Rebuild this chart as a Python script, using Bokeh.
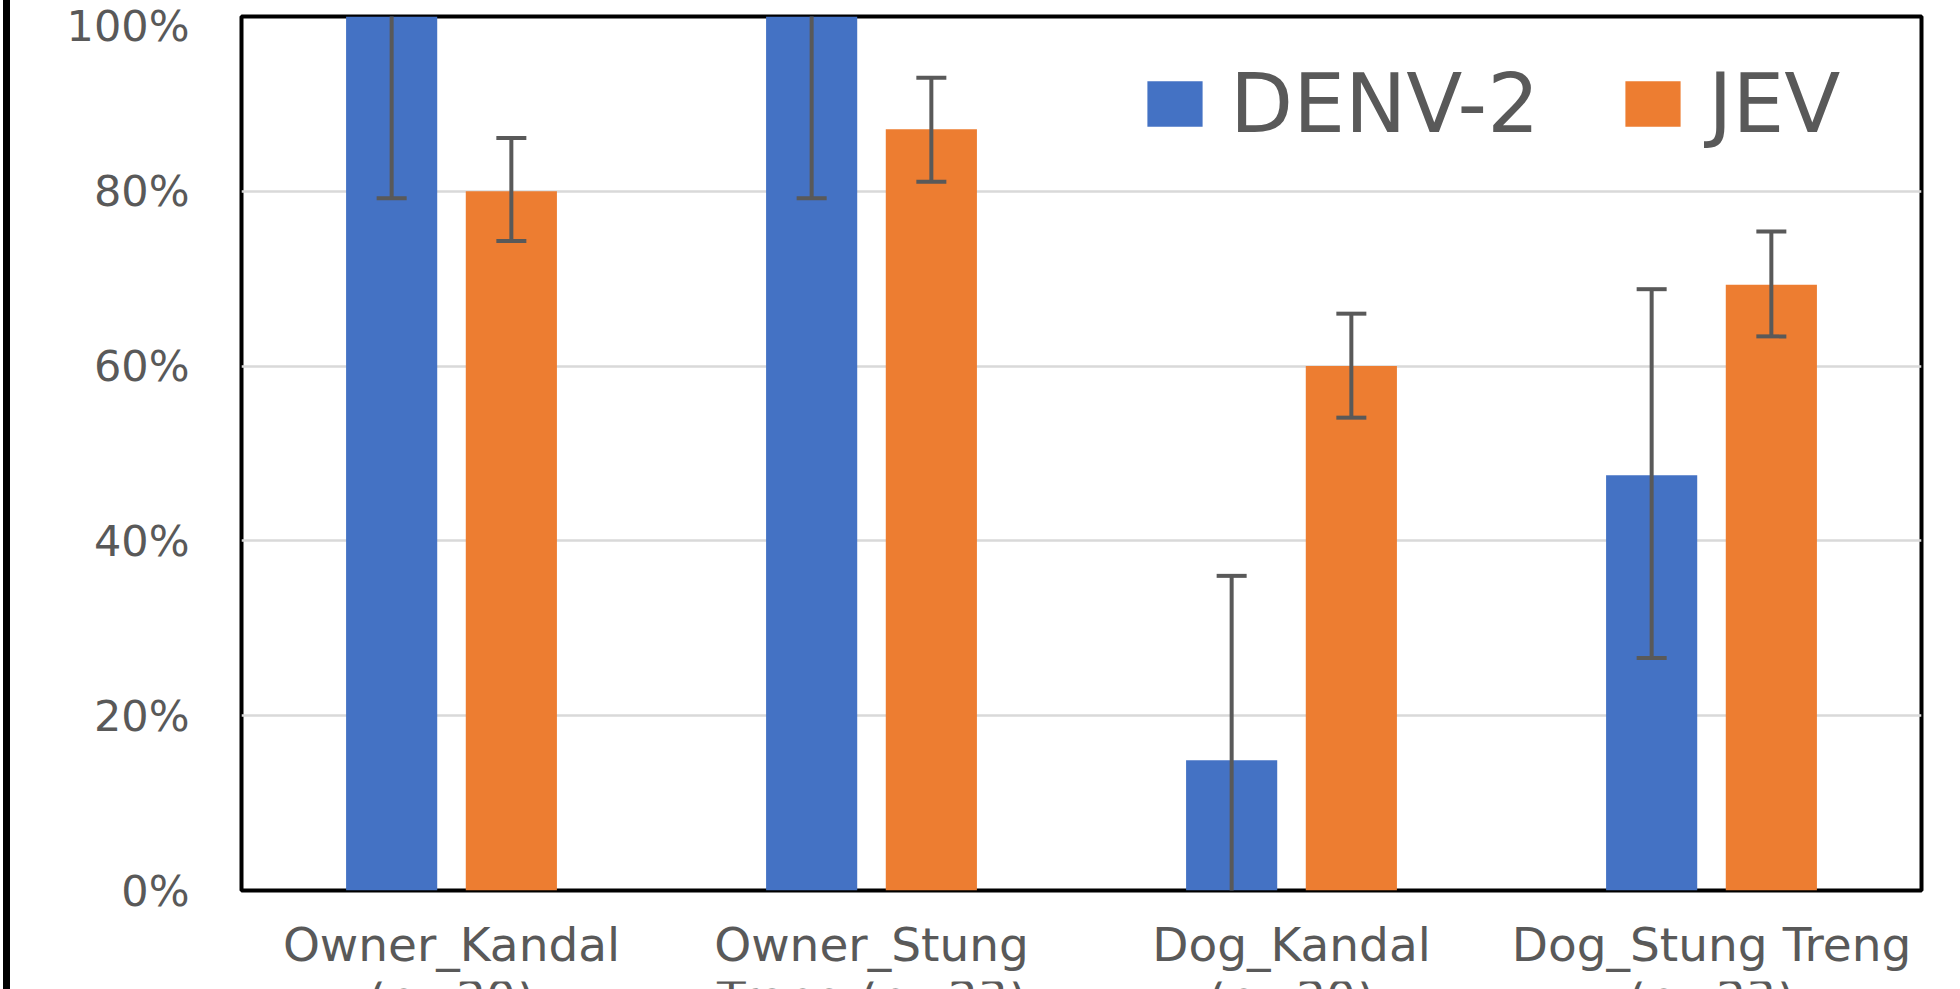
from bokeh.plotting import figure
from bokeh.models import (ColumnDataSource, Range1d, FactorRange, NumeralTickFormatter, Legend,
                          LegendItem, FixedTicker, Div)
from bokeh.core.properties import value
from bokeh.transform import dodge
from bokeh.layouts import row, column
from bokeh.embed import file_html
from bokeh.resources import INLINE

categories = ["Owner_Kandal", "Owner_Stung", "Dog_Kandal", "Dog_Stung Treng"]
categories_line2 = ["(n=20)", "Treng (n=23)", "(n=20)", "(n=23)"]
denv = [1.00, 1.00, 0.149, 0.475]
jev = [0.80, 0.871, 0.60, 0.693]
denv_low = [0.792, 0.792, -0.062, 0.266]
denv_high = [1.208, 1.208, 0.360, 0.688]
jev_low = [0.743, 0.811, 0.541, 0.634]
jev_high = [0.861, 0.930, 0.660, 0.754]
series = ["DENV-2", "JEV"]
y_ticks = [0, 0.2, 0.4, 0.6, 0.8, 1.0]

BLUE = "#4472C4"
ORANGE = "#ED7D31"
GRAY = "#595959"
FONT = "DejaVu Sans"
LINE2_Y = 2.2  # position of the (mostly cut-off) second label line in the strip below

src = ColumnDataSource(dict(cat=categories, line2=categories_line2,
                            ypos=[LINE2_Y] * len(categories),
                            denv=denv, jev=jev, dl=denv_low, dh=denv_high, jl=jev_low, jh=jev_high))

p = figure(width=1949, height=979, x_range=FactorRange(*categories), y_range=Range1d(0, 1),
           output_backend="svg", toolbar_location=None,
           min_border_left=231, min_border_right=38, min_border_top=16, min_border_bottom=89)

off = 0.1425
bw = 0.217
r1 = p.vbar(x=dodge("cat", -off, range=p.x_range), top="denv", width=bw, source=src,
            fill_color=BLUE, line_color=None)
r2 = p.vbar(x=dodge("cat", off, range=p.x_range), top="jev", width=bw, source=src,
            fill_color=ORANGE, line_color=None)

for o, lo, hi in [(-off, "dl", "dh"), (off, "jl", "jh")]:
    xx = dodge("cat", o, range=p.x_range)
    p.segment(x0=xx, y0=lo, x1=xx, y1=hi, source=src, line_color=GRAY, line_width=4)
    p.scatter(x=xx, y=lo, source=src, marker="dash", size=30, line_color=GRAY, line_width=4)
    p.scatter(x=xx, y=hi, source=src, marker="dash", size=30, line_color=GRAY, line_width=4)

p.outline_line_color = "black"
p.outline_line_width = 4
p.xgrid.grid_line_color = None
p.ygrid.grid_line_color = "#D9D9D9"
p.ygrid.grid_line_width = 2.5

p.yaxis.ticker = FixedTicker(ticks=y_ticks)
p.yaxis.formatter = NumeralTickFormatter(format="0%")
for ax in (p.xaxis[0], p.yaxis[0]):
    ax.axis_line_color = None
    ax.major_tick_line_color = None
    ax.minor_tick_line_color = None
    ax.major_label_text_color = GRAY
    ax.major_label_text_font = FONT
p.yaxis.major_label_text_font_size = "43px"
p.yaxis.major_label_standoff = 46
p.xaxis.major_label_text_font_size = "47px"
p.xaxis.major_label_standoff = 20

legend = Legend(items=[LegendItem(label=series[0], renderers=[r1]),
                       LegendItem(label=series[1], renderers=[r2])],
                orientation="horizontal", location=(899, 739))
legend.label_text_font = FONT
legend.label_text_font_size = "82px"
legend.label_text_color = GRAY
legend.glyph_width = 69
legend.glyph_height = 57
legend.label_standoff = 21
legend.spacing = 79
legend.padding = 0
legend.margin = 0
legend.border_line_color = None
legend.background_fill_alpha = 0
p.add_layout(legend)

# strip under the chart holding the second line of each category label (cut by the page edge)
p2 = figure(width=1949, height=10, x_range=p.x_range, y_range=Range1d(0, 1),
            output_backend="svg", toolbar_location=None,
            x_axis_location=None, y_axis_location=None,
            min_border_left=231, min_border_right=38, min_border_top=0, min_border_bottom=0)
p2.outline_line_color = None
p2.grid.visible = False
p2.text(x="cat", y="ypos", text="line2", source=src, text_align="center", text_baseline="top",
        text_font=value(FONT), text_font_size="47px", text_color=GRAY)

edge = Div(text="", width=7, height=989, margin=(0, 0, 0, 3),
           styles={"background-color": "black"})

layout = row(edge, column(p, p2))
open("out.html", "w").write(file_html(layout, INLINE))
